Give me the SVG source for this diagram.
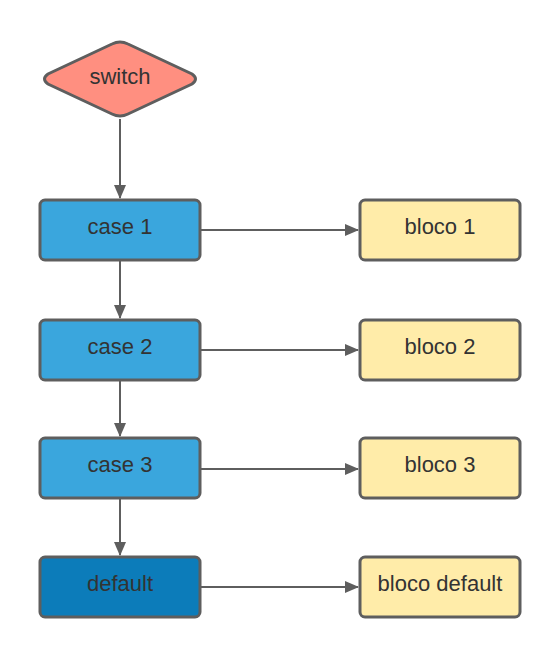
<svg xmlns="http://www.w3.org/2000/svg" width="560" height="657" viewBox="0 0 560 657">
<style>
.n{stroke:#5e5e5e;stroke-width:3;}
.case{fill:#3aa6dd;}
.def{fill:#0c7cba;}
.blk{fill:#ffeca9;}
.sw{fill:#ff8f80;}
text{font-family:"Liberation Sans",Arial,sans-serif;font-size:22px;fill:#333333;text-anchor:middle;dominant-baseline:central;}
.c{stroke:#5e5e5e;stroke-width:2;fill:none;marker-end:url(#ah);}
</style>
<defs>
<marker id="ah" markerWidth="14" markerHeight="12" refX="13" refY="6" orient="auto" markerUnits="userSpaceOnUse">
<path d="M0,0 L14,6 L0,12 Z" fill="#5e5e5e"/>
</marker>
</defs>
<rect width="560" height="657" fill="#ffffff"/>
<g id="connectors">
<line class="c" x1="120" y1="119" x2="120" y2="198"/>
<line class="c" x1="120" y1="261" x2="120" y2="318"/>
<line class="c" x1="120" y1="381" x2="120" y2="436"/>
<line class="c" x1="120" y1="499" x2="120" y2="555"/>
<line class="c" x1="201" y1="230" x2="358" y2="230"/>
<line class="c" x1="201" y1="350" x2="358" y2="350"/>
<line class="c" x1="201" y1="469" x2="358" y2="469"/>
<line class="c" x1="201" y1="587" x2="358" y2="587"/>
</g>
<g id="switch">
<path class="n sw" d="M112,44 Q120,40 128,44 L192,74 Q199,79 192,84 L128,114 Q120,118 112,114 L48,84 Q41,79 48,74 Z"/>
<text x="120" y="76">switch</text>
</g>
<g id="case1"><rect class="n case" x="40" y="200" width="160" height="60" rx="5"/><text x="120" y="226">case 1</text></g>
<g id="case2"><rect class="n case" x="40" y="320" width="160" height="60" rx="5"/><text x="120" y="346">case 2</text></g>
<g id="case3"><rect class="n case" x="40" y="438" width="160" height="60" rx="5"/><text x="120" y="464">case 3</text></g>
<g id="default"><rect class="n def" x="40" y="557" width="160" height="60" rx="5"/><text x="120" y="583">default</text></g>
<g id="bloco1"><rect class="n blk" x="360" y="200" width="160" height="60" rx="5"/><text x="440" y="226">bloco 1</text></g>
<g id="bloco2"><rect class="n blk" x="360" y="320" width="160" height="60" rx="5"/><text x="440" y="346">bloco 2</text></g>
<g id="bloco3"><rect class="n blk" x="360" y="438" width="160" height="60" rx="5"/><text x="440" y="464">bloco 3</text></g>
<g id="blocodefault"><rect class="n blk" x="360" y="557" width="160" height="60" rx="5"/><text x="440" y="583">bloco default</text></g>
</svg>
